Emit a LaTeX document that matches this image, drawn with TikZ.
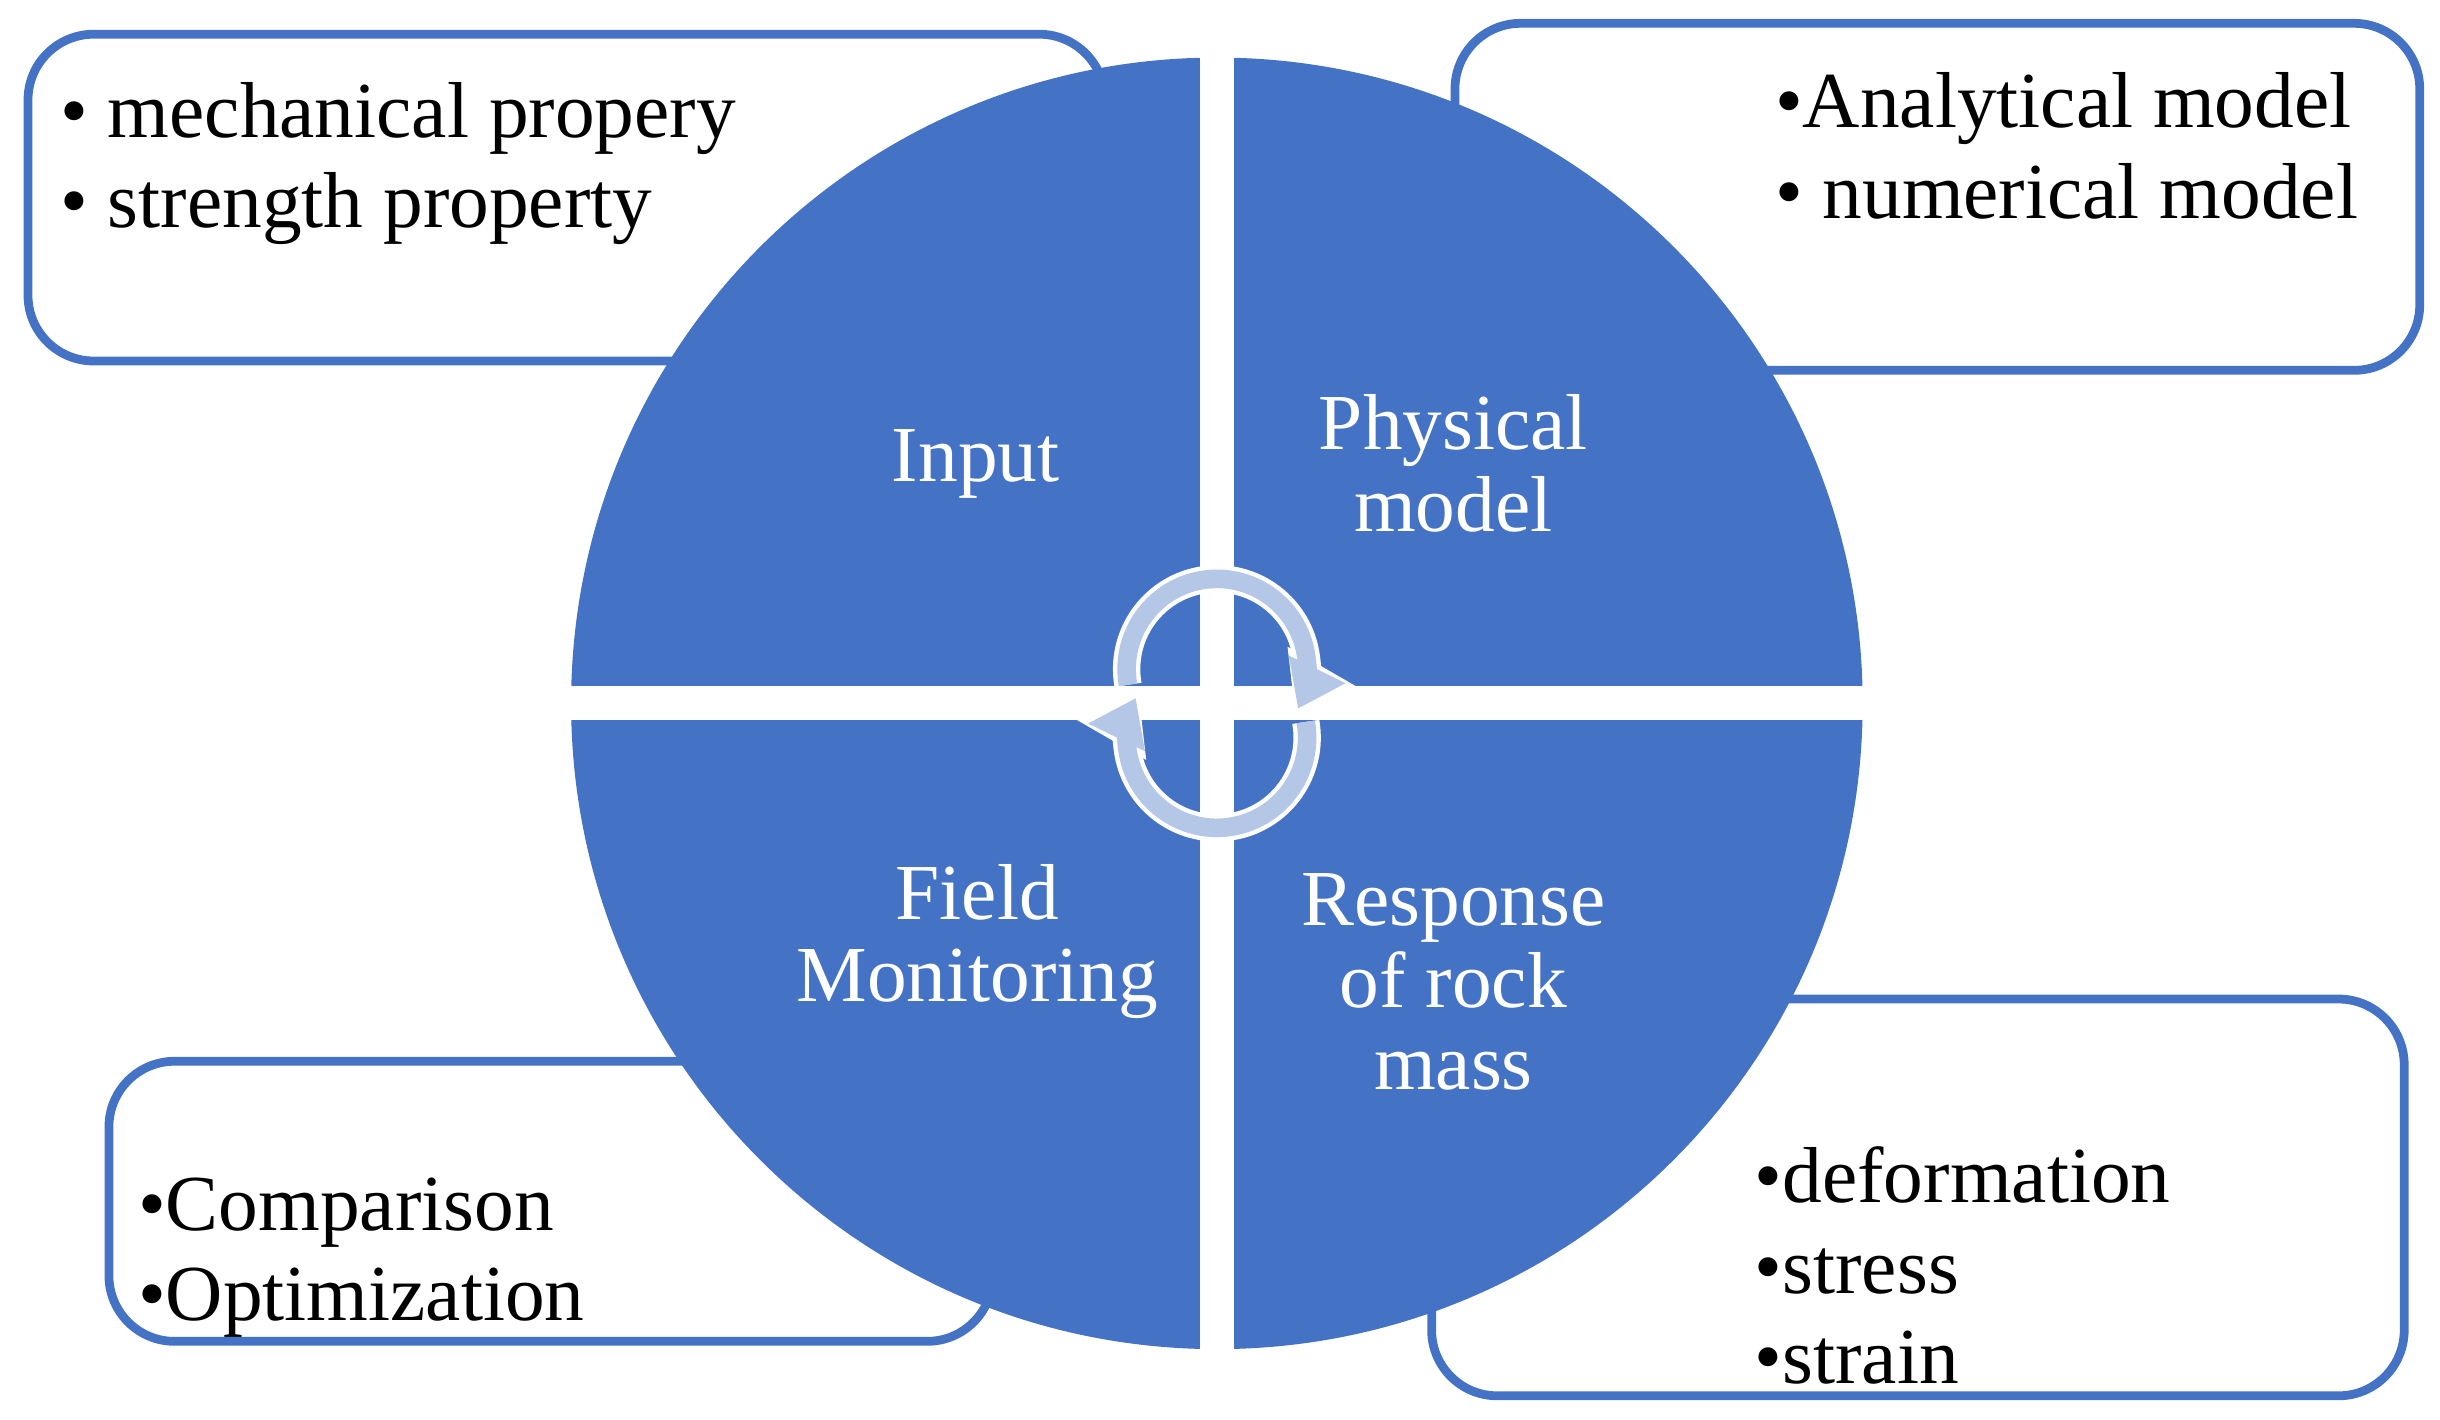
\documentclass[tikz,border=0pt]{standalone}
\usepackage{fontspec}
\setmainfont{Liberation Serif}
\usetikzlibrary{arrows.meta}
\definecolor{quadblue}{HTML}{4472C4}
\definecolor{cyclearrow}{HTML}{B4C7E7}
\tikzset{
  infobox/.style={draw=quadblue,line width=1.6pt,fill=white,rounded corners=12pt},
  boxtext/.style={align=left,anchor=north west,inner sep=0pt,font=\fontsize{14.5}{16.6}\selectfont},
  quadtext/.style={text=white,align=center,font=\fontsize{14.5}{15}\selectfont},
  cycle/.style={line width=3.4pt,draw=cyclearrow,-{Triangle[length=8pt,width=11pt]}},
  cycleedge/.style={line width=5pt,draw=white,-{Triangle[length=10pt,width=14pt]}}
}
\begin{document}
\begin{tikzpicture}[x=0.01cm,y=0.01cm]
      \useasboundingbox (0,0) rectangle (1568,912);

      % side boxes (behind the disc)
      \draw[infobox] (18,680) rectangle (710,890);
      \draw[infobox] (935,674) rectangle (1555,897);
      \draw[infobox] (70,50) rectangle (638,230);
      \draw[infobox] (920,15) rectangle (1545,270);

      \node (inlist) [boxtext] at (38,860)
            {• mechanical propery\\• strength property};
      \node (modlist) [boxtext] at (1140,866)
            {•Analytical model\\• numerical model};
      \node (fieldlist) [boxtext] at (88,156)
            {•Comparison\\•Optimization};
      \node (resplist) [boxtext] at (1127,176)
            {•deformation\\•stress\\•strain};

      % the disc cut into four
      \fill[quadblue] (782,460) circle (415);
      \draw[white,line width=0.22cm] (782,30) -- (782,890);
      \draw[white,line width=0.22cm] (350,460) -- (1215,460);

      \node (input) [quadtext] at (627,614) {Input};
      \node (phys) [quadtext] at (934,614) {Physical\\model};
      \node (field) [quadtext] at (628,307) {Field\\Monitoring};
      \node (resp) [quadtext] at (934,281) {Response\\of rock\\mass};

      % cycle arrows
      \draw[cycleedge] ([shift={(190:58)}]782,482) arc (190:-30:58);
      \draw[cycle] ([shift={(190:58)}]782,482) arc (190:-26:58);
      \draw[cycleedge] ([shift={(10:58)}]782,438) arc (10:-210:58);
      \draw[cycle] ([shift={(10:58)}]782,438) arc (10:-206:58);
\end{tikzpicture}
\end{document}
